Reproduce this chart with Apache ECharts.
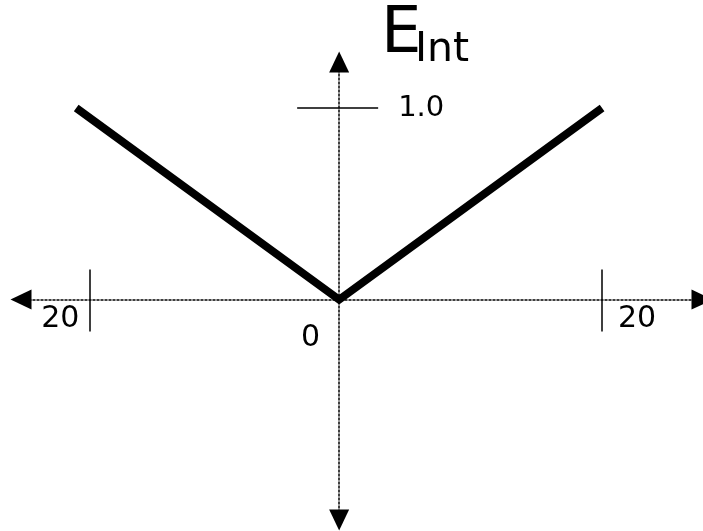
<!DOCTYPE html>
<html>
<head>
<meta charset="utf-8">
<title>E_Int</title>
<script src="https://cdn.jsdelivr.net/npm/echarts@6.0.0/dist/echarts.min.js"></script>
<style>
  html, body { margin: 0; padding: 0; background: #fff; }
  #chart { width: 703px; height: 531px; }
</style>
</head>
<body>
<div id="chart"></div>
<script>
  // V shaped curve
  const xValues = [-20, 0, 20]
  const yValues = [1.0, 0, 1.0]

  // tick marks and labels
  const xTickValues = [-19, 20]
  const xLabelValues = [-19, 0, 20]
  const xLabelTexts = ['20', '0', '20']
  const yTickValues = [1.0]
  const yLabelTexts = ['1.0']

  const font = 'DejaVu Sans, Verdana, sans-serif'
  const gridLeft = 21
  const gridRight = 1
  const gridTop = 62
  const gridBottom = 11
  const W = 703
  const H = 531

  const chart = echarts.init(document.getElementById('chart'), null, { renderer: 'canvas' })

  const dotted = {
    color: '#000',
    width: 1.5,
    type: [2, 2]
  }
  const tickStyle = { color: '#000', width: 1.5 }

  function buildOption(off) {
    return {
      animation: false,
      backgroundColor: '#fff',
      title: [
        {
          text: 'E',
          left: 381,
          top: 3,
          padding: 0,
          textStyle: { fontFamily: font, fontSize: 64, fontWeight: 'normal', color: '#000' }
        },
        {
          text: 'Int',
          left: 415,
          top: 30,
          padding: 0,
          textStyle: { fontFamily: font, fontSize: 41, fontWeight: 'normal', color: '#000' }
        }
      ],
      grid: {
        left: gridLeft,
        right: gridRight,
        top: gridTop,
        bottom: gridBottom,
        containLabel: false,
        outerBoundsMode: 'none'
      },
      xAxis: [
        {
          type: 'value',
          position: 'bottom',
          offset: off.xBottom,
          min: -24.2,
          max: 27.6,
          splitLine: { show: false },
          axisLine: {
            onZero: false,
            symbol: ['triangle', 'triangle'],
            symbolSize: [20, 21],
            lineStyle: dotted
          },
          axisTick: {
            customValues: xTickValues,
            length: 32,
            lineStyle: tickStyle
          },
          axisLabel: {
            customValues: xLabelValues,
            margin: 5,
            hideOverlap: false,
            fontFamily: font,
            fontSize: 30,
            color: '#000',
            formatter: function(value) {
              const i = xLabelValues.indexOf(value)
              const key = ['l', 'z', 'r'][i]
              return '{' + key + '|' + xLabelTexts[i] + '}'
            },
            rich: {
              l: { fontFamily: font, fontSize: 30, color: '#000', padding: [0, 58, 0, 0] },
              z: { fontFamily: font, fontSize: 30, color: '#000', padding: [19, 57, 0, 0] },
              r: { fontFamily: font, fontSize: 30, color: '#000', padding: [0, 0, 0, 70] }
            }
          }
        },
        {
          type: 'value',
          position: 'top',
          offset: off.xTop,
          min: -24.2,
          max: 27.6,
          splitLine: { show: false },
          axisLine: { show: false, onZero: false },
          axisTick: {
            customValues: xTickValues,
            length: 30,
            lineStyle: tickStyle
          },
          axisLabel: { show: false }
        }
      ],
      yAxis: [
        {
          type: 'value',
          position: 'left',
          offset: off.yLeft,
          min: -1.15,
          max: 1.24,
          splitLine: { show: false },
          axisLine: {
            onZero: false,
            symbol: ['triangle', 'triangle'],
            symbolSize: [20, 21],
            lineStyle: dotted
          },
          axisTick: {
            customValues: yTickValues,
            length: 42,
            lineStyle: tickStyle
          },
          axisLabel: { show: false }
        },
        {
          type: 'value',
          position: 'right',
          offset: off.yRight,
          min: -1.15,
          max: 1.24,
          splitLine: { show: false },
          axisLine: { show: false, onZero: false },
          axisTick: {
            customValues: yTickValues,
            length: 39,
            lineStyle: tickStyle
          },
          axisLabel: {
            customValues: yTickValues,
            margin: 59,
            fontFamily: font,
            fontSize: 29,
            color: '#000',
            formatter: function(value) {
              return yLabelTexts[yTickValues.indexOf(value)]
            }
          }
        }
      ],
      series: [
        {
          type: 'line',
          xAxisIndex: 0,
          yAxisIndex: 0,
          data: xValues.map((x, i) => [x, yValues[i]]),
          symbol: 'none',
          z: 5,
          lineStyle: {
            color: '#000',
            width: 8,
            join: 'miter',
            cap: 'butt'
          }
        }
      ]
    }
  }

  // first pass to find where the origin lands, then move the axes onto it
  chart.setOption(buildOption({ xBottom: 0, xTop: 0, yLeft: 0, yRight: 0 }))
  const origin = chart.convertToPixel({ gridIndex: 0 }, [0, 0])
  const ox = origin[0]
  const oy = origin[1]
  chart.setOption(buildOption({
    xBottom: -((H - gridBottom) - oy),
    xTop: -(oy - gridTop),
    yLeft: -(ox - gridLeft),
    yRight: -((W - gridRight) - ox)
  }), true)
</script>
</body>
</html>
